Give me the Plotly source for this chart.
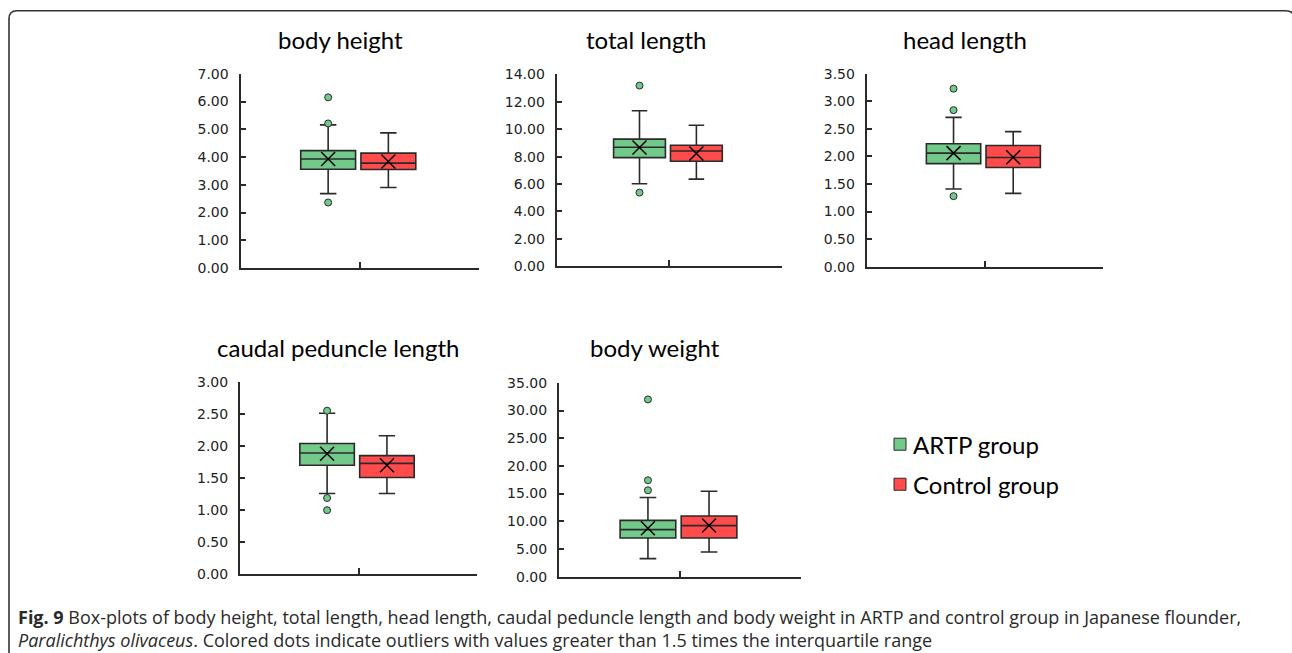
import plotly.graph_objects as go

# The photographed page is mapped as screen_y = SY * page_y + DY (x unchanged);
# positions below are given in screen pixels and converted back.
SY, DY = 0.975, 8.3
W, H = 1292, 670

panels = ["body height", "total length", "head length", "caudal peduncle length", "body weight"]
groups = ["ARTP group", "Control group"]

artp_q1 = [3.56, 7.93, 1.87, 1.70, 6.98]
artp_median = [3.93, 8.69, 2.06, 1.89, 8.49]
artp_q3 = [4.23, 9.28, 2.23, 2.04, 10.17]
artp_low = [2.68, 6.03, 1.41, 1.26, 3.25]
artp_high = [5.16, 11.35, 2.71, 2.51, 14.28]
artp_mean = [3.93, 8.67, 2.06, 1.88, 8.73]
artp_outliers = [[6.15, 5.21, 2.36], [13.19, 5.38], [3.23, 2.84, 1.28], [2.55, 1.19, 1.00], [32.0, 17.4, 15.6]]

ctrl_q1 = [3.55, 7.67, 1.80, 1.51, 6.98]
ctrl_median = [3.78, 8.42, 1.98, 1.73, 9.22]
ctrl_q3 = [4.14, 8.84, 2.20, 1.85, 10.95]
ctrl_low = [2.90, 6.36, 1.33, 1.26, 4.45]
ctrl_high = [4.87, 10.30, 2.45, 2.16, 15.42]
ctrl_mean = [3.84, 8.23, 1.985, 1.70, 9.22]
ctrl_outliers = [[], [], [], [], []]

y_max = [7, 14, 3.5, 3, 35]
y_dtick = [1, 2, 0.5, 0.5, 5]

GREEN = "#72C98A"
RED = "#FF4B4B"
LINE = "#2a2a2a"

# panel boxes in screen pixels: (x0, x1, ytop, ybottom)
boxes_px = [
    (240.5, 479, 74, 268),
    (556.7, 782, 74.7, 266.3),
    (866.7, 1103, 74, 266.7),
    (240, 477, 381.7, 574),
    (559, 801, 382.7, 576.3),
]
title_px = [(340, 40), (645.5, 40), (965, 40), (337.5, 347), (655, 347)]


def px(x):
    return x / W


def py(y):
    return 1 - ((y - DY) / SY) / H


fig = go.Figure()
layout = dict(width=W, height=H, margin=dict(l=0, r=0, t=0, b=0),
              paper_bgcolor="white", plot_bgcolor="rgba(0,0,0,0)", showlegend=False)

POS = [0.735, 1.24]
BW = 0.46

stats = [
    (artp_q1, artp_median, artp_q3, artp_low, artp_high, artp_mean, artp_outliers, GREEN),
    (ctrl_q1, ctrl_median, ctrl_q3, ctrl_low, ctrl_high, ctrl_mean, ctrl_outliers, RED),
]

annotations = []
for i, name in enumerate(panels):
    n = i + 1
    xa = "x" if n == 1 else f"x{n}"
    ya = "y" if n == 1 else f"y{n}"
    x0, x1, yt, yb = boxes_px[i]
    for g, (q1, med, q3, lo, hi, mean, outl, col) in enumerate(stats):
        fig.add_trace(go.Box(
            x=[POS[g]], q1=[q1[i]], median=[med[i]], q3=[q3[i]],
            lowerfence=[lo[i]], upperfence=[hi[i]], width=BW,
            fillcolor=col, line=dict(color=LINE, width=1.6), whiskerwidth=0.3,
            boxpoints=False, name=groups[g], xaxis=xa, yaxis=ya, hoverinfo="skip"))
        if outl[i]:
            fig.add_trace(go.Scatter(
                x=[POS[g]] * len(outl[i]), y=outl[i], mode="markers",
                marker=dict(size=7, color=col, line=dict(color=LINE, width=1)),
                xaxis=xa, yaxis=ya, hoverinfo="skip"))
        fig.add_trace(go.Scatter(
            x=[POS[g]], y=[mean[i]], mode="markers",
            marker=dict(symbol="x-thin", size=14, line=dict(color="black", width=1.5)),
            xaxis=xa, yaxis=ya, hoverinfo="skip"))
    xkey = "xaxis" if n == 1 else f"xaxis{n}"
    ykey = "yaxis" if n == 1 else f"yaxis{n}"
    layout[xkey] = dict(domain=[px(x0), px(x1)], anchor=ya, range=[0, 2],
                        showline=True, linecolor=LINE, linewidth=2,
                        ticks="inside", tickvals=[1, 2], ticklen=6, tickwidth=2, tickcolor=LINE,
                        showticklabels=False, showgrid=False, zeroline=False, fixedrange=True)
    layout[ykey] = dict(domain=[py(yb), py(yt)], anchor=xa, range=[0, y_max[i]],
                        dtick=y_dtick[i], tick0=0, tickformat=".2f",
                        showline=True, linecolor=LINE, linewidth=2,
                        ticks="inside", ticklen=5, tickwidth=2, tickcolor=LINE,
                        ticklabelstandoff=7,
                        tickfont=dict(family="DejaVu Sans", size=14, color="#222"),
                        showgrid=False, zeroline=False, fixedrange=True)
    tx, ty = title_px[i]
    annotations.append(dict(text=name, x=px(tx), y=py(ty), xref="paper", yref="paper",
                            xanchor="center", yanchor="middle", showarrow=False,
                            font=dict(family="Lato", size=24, color="black")))

shapes = []
# legend
leg = [(444, GREEN, groups[0]), (484, RED, groups[1])]
for yc, col, txt in leg:
    shapes.append(dict(type="rect", xref="paper", yref="paper",
                       x0=px(894), x1=px(906), y0=py(yc + 6), y1=py(yc - 6),
                       fillcolor=col, line=dict(color=LINE, width=1)))
    annotations.append(dict(text=txt, x=px(911), y=py(yc), xref="paper", yref="paper",
                            xanchor="left", yanchor="middle", showarrow=False,
                            font=dict(family="Lato", size=24, color="black")))

# caption (two lines in one text block)
caption = ("<b>Fig. 9</b> Box-plots of body height, total length, head length, caudal peduncle length "
           "and body weight in ARTP and control group in Japanese flounder,<br>"
           "<i>Paralichthys olivaceus</i>. Colored dots indicate outliers with values greater than "
           "1.5 times the interquartile range")
annotations.append(dict(text=caption, x=px(16), y=py(628), xref="paper", yref="paper",
                        xanchor="left", yanchor="middle", align="left", showarrow=False,
                        font=dict(family="Open Sans", size=18, color="#2a2a2a")))


# frame
def P(x, y):
    return f"{px(x):.5f},{py(y):.5f}"


path = (f"M {P(9, 700)} L {P(9, 19)} Q {P(9, 11)} {P(17, 11)} "
        f"L {P(1286, 11)} Q {P(1294, 11)} {P(1294, 19)} L {P(1294, 700)}")
shapes.append(dict(type="path", xref="paper", yref="paper", path=path,
                   line=dict(color="#333", width=1.6)))

layout["annotations"] = annotations
layout["shapes"] = shapes
fig.update_layout(**layout)
fig.write_html("out.html", config={"displayModeBar": False},
               post_script="document.body.style.margin='0px';document.body.style.overflow='hidden';")
